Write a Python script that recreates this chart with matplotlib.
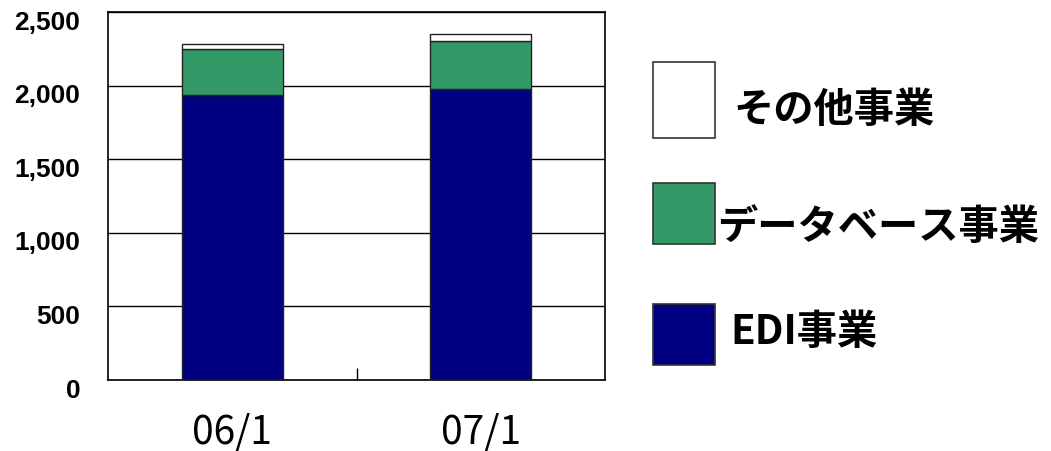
import matplotlib
matplotlib.use("Agg")
import matplotlib.pyplot as plt
import matplotlib.transforms as mtransforms
from matplotlib.patches import Rectangle

# 売上高の推移（事業別）
periods = ["06/1", "07/1"]
edi = [1934, 1977]
database = [313, 328]
other = [38, 45]

segment_names = ["その他事業", "データベース事業", "EDI事業"]
segment_colors = ["#ffffff", "#339966", "#000080"]

fig = plt.figure(figsize=(10.51, 4.52), dpi=100)
ax = fig.add_axes([0.1028, 0.157, 0.4729, 0.814])

x = list(range(len(periods)))
w = 0.405
edge = dict(edgecolor="#222222", linewidth=1.0, zorder=3)
ax.bar(x, edi, w, color=segment_colors[2], **edge)
bottom2 = [a for a in edi]
ax.bar(x, database, w, bottom=bottom2, color=segment_colors[1], **edge)
bottom3 = [a + b for a, b in zip(edi, database)]
ax.bar(x, other, w, bottom=bottom3, color=segment_colors[0], **edge)

ax.set_xlim(-0.5, 1.5)
ax.set_ylim(0, 2500)
ax.set_yticks(range(0, 2501, 500))
ax.set_yticklabels([f"{v:,}" for v in range(0, 2501, 500)],
                   fontfamily="Liberation Sans", fontweight="bold", fontsize=19)
ax.yaxis.grid(True, color="black", linewidth=1.0)
ax.set_axisbelow(True)
ax.tick_params(axis="y", length=0, pad=20)
shift = mtransforms.ScaledTranslation(0, -7 / 100, fig.dpi_scale_trans)
for lab in ax.get_yticklabels():
    lab.set_transform(lab.get_transform() + shift)

# category labels in the middle, ticks between the categories
ax.set_xticks(x)
ax.set_xticklabels(periods, fontfamily=["Noto Sans CJK JP", "DejaVu Sans"], fontsize=28)
ax.tick_params(axis="x", length=0, pad=23)
ax.set_xticks([0.5], minor=True)
ax.tick_params(axis="x", which="minor", direction="in", length=9, width=1, color="black")

for s in ax.spines.values():
    s.set_color("black")
    s.set_linewidth(1.2)

# legend drawn as large swatches on the right
swatches = [(63, 76), (184, 61), (305, 61)]
text_pos = [(733, 110), (717, 228), (730, 333)]
for name, col, (top, h), (tx, ty) in zip(segment_names, segment_colors, swatches, text_pos):
    fig.add_artist(Rectangle((653 / 1051, 1 - (top + h) / 452), 62 / 1051, h / 452,
                             transform=fig.transFigure, facecolor=col,
                             edgecolor="#333333", linewidth=1.2))
    fig.text(tx / 1051, 1 - ty / 452, name, fontfamily=["Noto Sans CJK JP", "DejaVu Sans"],
             fontweight="bold", fontsize=29, va="center", ha="left")

fig.savefig("out.png", dpi=100)
